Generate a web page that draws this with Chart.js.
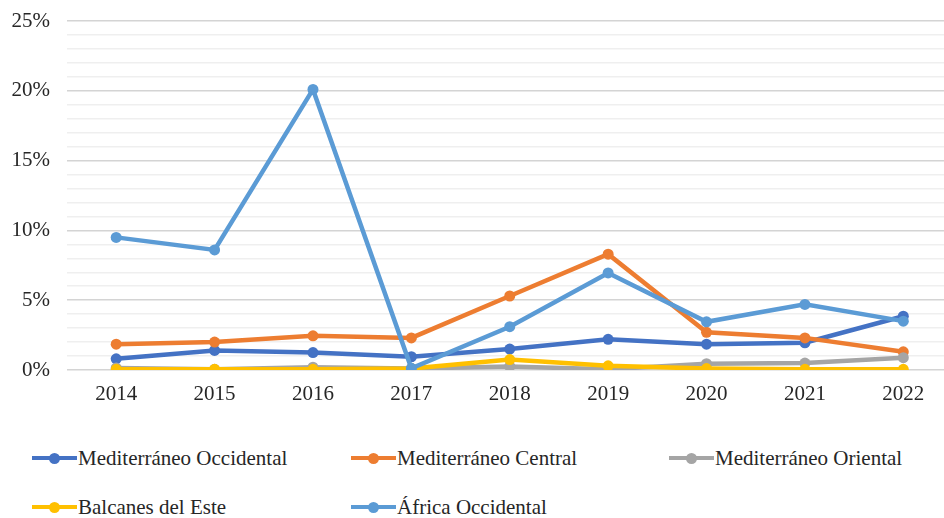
<!DOCTYPE html>
<html>
<head>
<meta charset="utf-8">
<script src="https://cdn.jsdelivr.net/npm/chart.js@4/dist/chart.umd.min.js"></script>
<style>
html,body{margin:0;padding:0;background:#fff;overflow:hidden;width:944px;height:518px;}
#wrap{position:absolute;left:0;top:0;width:958px;height:430px;}
.leg{position:absolute;font-family:"Liberation Serif","Liberation Sans",sans-serif;font-size:21px;color:#262626;white-space:nowrap;line-height:24px;}
.sym{position:absolute;width:45px;height:4px;top:10px;left:-46px;}
.dot{position:absolute;width:11px;height:11px;border-radius:50%;top:-3.5px;left:17px;}
</style>
</head>
<body>
<div id="wrap"><canvas id="chart"></canvas></div>
<div id="legend"></div>
<script>
// years on the x axis
let years=["2014","2015","2016","2017","2018","2019","2020","2021","2022"];

// share per route (%)
let medOccidental=[0.8,1.4,1.25,0.95,1.5,2.2,1.85,1.95,3.85];
let medCentral=[1.85,2.0,2.45,2.3,5.3,8.3,2.7,2.3,1.3];
let medOriental=[0.15,0.05,0.2,0.1,0.25,0.05,0.45,0.5,0.88];
let balcanes=[0.05,0.05,0.05,0.1,0.75,0.3,0.1,0.05,0.05];
let africaOcc=[9.5,8.6,20.1,0.12,3.1,6.95,3.45,4.7,3.5];

let names=["Mediterráneo Occidental","Mediterráneo Central","Mediterráneo Oriental","Balcanes del Este","África Occidental"];
let series=[medOccidental,medCentral,medOriental,balcanes,africaOcc];
let colors=["#4472C4","#ED7D31","#A5A5A5","#FFC000","#5B9BD5"];

let datasets=[];
for(let i=0;i<series.length;i++){
datasets.push({
label:names[i],
data:series[i],
borderColor:colors[i],
backgroundColor:colors[i],
borderWidth:4.5,
pointRadius:5.5,
pointBorderWidth:0,
pointBackgroundColor:colors[i],
tension:0,
order:series.length-i
});
}

let font={family:"'Liberation Serif', 'Liberation Sans', sans-serif",size:21};

new Chart(document.getElementById("chart"),{
type:'line',
data:{labels:years,datasets},
options:{
responsive:true,
maintainAspectRatio:false,
animation:false,
layout:{padding:{top:21,right:2,left:0,bottom:0}},
plugins:{legend:{display:false},tooltip:{enabled:false}},
scales:{
x:{
offset:true,
grid:{display:false,drawTicks:false},
border:{display:false},
ticks:{font,color:"#262626",padding:12,maxRotation:0,autoSkip:false},
afterFit:s=>{s.height=60;}
},
y:{
min:0,max:25,
border:{display:false},
grid:{
drawTicks:false,
lineWidth:1.5,
color:c=>c.tick&&c.tick.value%5===0?"#d4d4d4":"#efefef"
},
ticks:{
stepSize:1,autoSkip:false,font,color:"#262626",padding:17,
callback:v=>v%5===0?v+"%":""
},
afterFit:s=>{s.width=67;s.paddingTop=0;s.paddingBottom=0;}
}
}
}
});

// legend laid out in columns like the original
let legPos=[[78,446],[397,446],[715,446],[78,495],[397,495]];
let legend=document.getElementById("legend");
names.forEach((n,i)=>{
let d=document.createElement("div");
d.className="leg";
d.style.left=legPos[i][0]+"px";
d.style.top=legPos[i][1]+"px";
d.innerHTML='<span class="sym" style="background:'+colors[i]+'"><span class="dot" style="background:'+colors[i]+'"></span></span>'+n;
legend.appendChild(d);
});
</script>
</body>
</html>
